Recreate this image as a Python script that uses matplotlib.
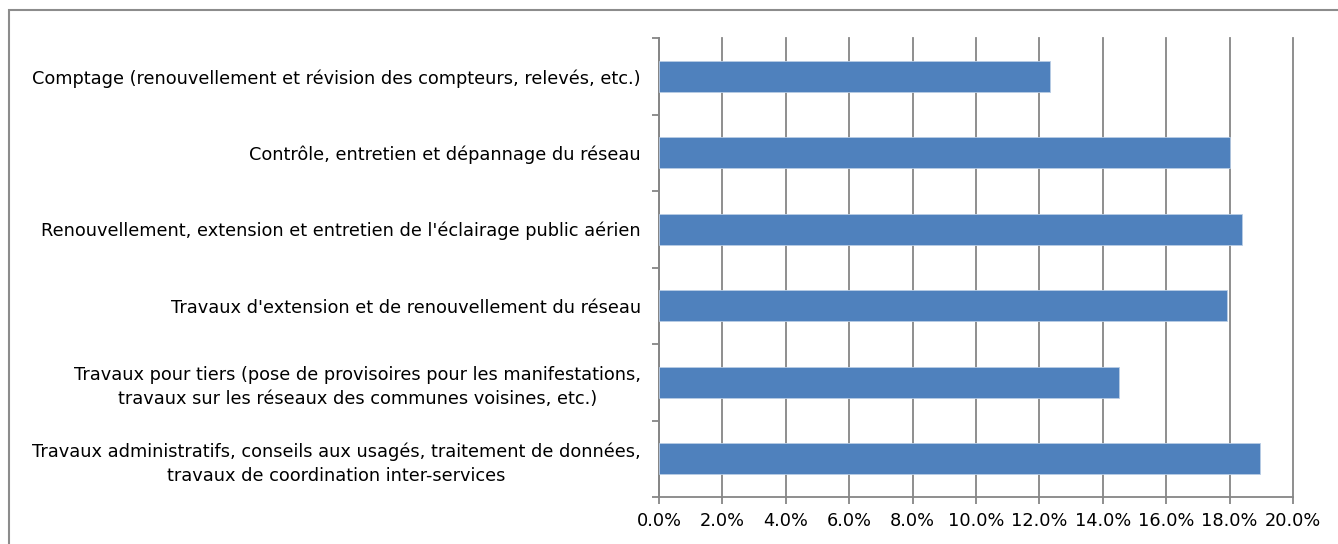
import matplotlib
matplotlib.use("Agg")
import matplotlib.pyplot as plt
from matplotlib.ticker import FuncFormatter, MultipleLocator, FixedLocator
from matplotlib.patches import Rectangle

categories = [
    "Comptage (renouvellement et révision des compteurs, relevés, etc.)",
    "Contrôle, entretien et dépannage du réseau",
    "Renouvellement, extension et entretien de l'éclairage public aérien",
    "Travaux d'extension et de renouvellement du réseau",
    "Travaux pour tiers (pose de provisoires pour les manifestations,\ntravaux sur les réseaux des communes voisines, etc.)",
    "Travaux administratifs, conseils aux usagés, traitement de données,\ntravaux de coordination inter-services",
]
values = [12.32, 18.0, 18.39, 17.91, 14.51, 18.95]

plt.rcParams['font.family'] = ['DejaVu Sans']

W, H = 1338, 544
fig = plt.figure(figsize=(W / 100, H / 100), dpi=100)
ax = fig.add_axes([659 / W, 1 - 497 / H, (1293 - 659) / W, (497 - 38) / H])

gray = "#868686"
n = len(categories)
ypos = list(range(n - 1, -1, -1))
ax.barh(ypos, values, height=0.4, color="#4F81BD", edgecolor="#B9CDE5", linewidth=0.6, zorder=3)

ax.set_xlim(0, 20)
ax.set_ylim(-0.5, n - 0.5)
ax.xaxis.set_major_locator(MultipleLocator(2))
ax.xaxis.set_major_formatter(FuncFormatter(lambda v, p: f"{v:.1f}%"))
ax.grid(axis="x", color=gray, linewidth=1.3, zorder=0)
for gl in ax.get_xgridlines():
    gl.set_clip_on(False)

ax.set_yticks(ypos)
ax.set_yticklabels(categories, fontsize=12.8, linespacing=1.4, multialignment="center")
ax.yaxis.set_minor_locator(FixedLocator([i - 0.5 for i in range(n + 1)]))
ax.tick_params(axis="y", which="major", length=0, pad=13)
ax.tick_params(axis="y", which="minor", length=5, color=gray, width=1.3)
ax.tick_params(axis="x", which="major", length=5, color=gray, width=1.3, labelsize=12.8, pad=6)

for s in ["top", "right"]:
    ax.spines[s].set_visible(False)
for s in ["left", "bottom"]:
    ax.spines[s].set_color(gray)
    ax.spines[s].set_linewidth(1.3)

fig.patches.append(Rectangle((8.5 / W, -0.1), 1.2, 1 - 9.5 / H + 0.1, transform=fig.transFigure,
                             fill=False, edgecolor="#8C8C8C", linewidth=1.5))

fig.savefig("out.png", dpi=100, facecolor="white")
